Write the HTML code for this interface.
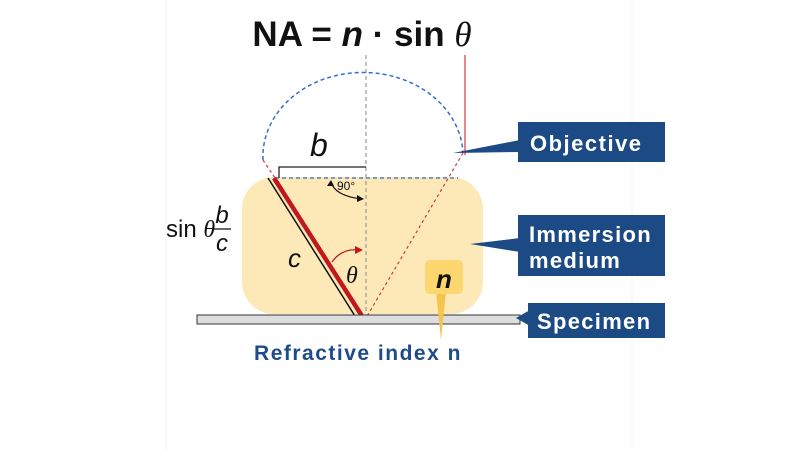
<!DOCTYPE html>
<html><head><meta charset="utf-8"><style>
html,body{margin:0;padding:0;background:#fff;}
body{width:800px;height:450px;overflow:hidden;position:relative;font-family:"Liberation Sans",sans-serif;}
</style></head><body>
<svg width="800" height="450" viewBox="0 0 800 450" xmlns="http://www.w3.org/2000/svg" style="position:absolute;left:0;top:0">
<line x1="166" y1="0" x2="166" y2="450" stroke="#f0f0f0" stroke-width="1"/>
<line x1="632" y1="0" x2="632" y2="450" stroke="#f0f0f0" stroke-width="1"/>
<text x="362" y="46" text-anchor="middle" font-family="Liberation Sans, sans-serif" font-size="35" font-weight="bold" fill="#111">NA = <tspan font-style="italic">n</tspan> · sin <tspan font-weight="normal" font-style="italic" font-family="Liberation Serif, serif">θ</tspan></text>
<rect x="242" y="177" width="241" height="137" rx="32" fill="#fde9b8"/>
<path d="M263,160 A100,84 0 0 1 463,153" fill="none" stroke="#2f6fce" stroke-width="1.5" stroke-dasharray="4,3"/>
<line x1="275" y1="178" x2="458" y2="178" stroke="#2f6fce" stroke-width="1.3" stroke-dasharray="4,3"/>
<line x1="366" y1="55" x2="366" y2="322" stroke="#999" stroke-width="1.2" stroke-dasharray="4,3"/>
<line x1="465" y1="55" x2="465" y2="155" stroke="#d9363e" stroke-width="1.2"/>
<line x1="263" y1="160" x2="275" y2="178" stroke="#d9363e" stroke-width="1.2" stroke-dasharray="3,3"/>
<line x1="463" y1="153" x2="366" y2="318" stroke="#d9363e" stroke-width="1.2" stroke-dasharray="3,3"/>
<polyline points="279,178 279,167 366,167" fill="none" stroke="#222" stroke-width="1.3"/>
<line x1="268" y1="178" x2="355" y2="316" stroke="#111" stroke-width="1.5"/>
<line x1="274" y1="178" x2="362" y2="316" stroke="#c0181e" stroke-width="4.5"/>
<rect x="197" y="315" width="323" height="9" fill="#ddd" stroke="#333" stroke-width="1"/>
<path d="M331,182 Q335,196 362,199" fill="none" stroke="#111" stroke-width="1.3"/>
<path d="M327,186 L331,180 L334,186 Z" fill="#111"/>
<path d="M357,195 L364,199 L357,202 Z" fill="#111"/>
<text x="337" y="190" font-size="12" fill="#111">90°</text>
<path d="M332,262 Q342,248 359,250" fill="none" stroke="#c0181e" stroke-width="1.3"/>
<path d="M355,246 L363,250 L355,254 Z" fill="#c0181e"/>
<text x="346" y="283" font-size="24" font-style="italic" font-family="Liberation Serif, serif" fill="#111">θ</text>
<text x="288" y="267" font-size="26" font-style="italic" fill="#111">c</text>
<text x="310" y="156" font-size="32" font-style="italic" fill="#111">b</text>
<text x="166" y="237" font-size="24" fill="#111">sin <tspan font-style="italic" font-family="Liberation Serif, serif">θ</tspan></text>
<text x="222" y="223" font-size="24" font-style="italic" fill="#111" text-anchor="middle">b</text>
<line x1="212" y1="229" x2="231" y2="229" stroke="#111" stroke-width="1.3"/>
<text x="222" y="251" font-size="24" font-style="italic" fill="#111" text-anchor="middle">c</text>
<polygon points="436,292 446,292 441,340" fill="#f4c54c"/>
<rect x="425" y="260" width="38" height="34" rx="5" fill="#fcd66e"/>
<text x="444" y="288" font-size="26" font-weight="bold" font-style="italic" fill="#111" text-anchor="middle">n</text>
<polygon points="453,153 520,140 520,152" fill="#1c4a85"/>
<rect x="518" y="122" width="147" height="40" fill="#1c4a85"/>
<text x="530" y="151" font-size="22" font-weight="bold" fill="#fff" letter-spacing="1.5">Objective</text>
<polygon points="470,244 520,238 520,252" fill="#1c4a85"/>
<rect x="518" y="215" width="147" height="61" fill="#1c4a85"/>
<text x="529" y="242" font-size="22" font-weight="bold" fill="#fff" letter-spacing="1.3">Immersion</text>
<text x="529" y="268" font-size="22" font-weight="bold" fill="#fff" letter-spacing="1.3">medium</text>
<polygon points="516,318 530,310 530,326" fill="#1c4a85"/>
<rect x="528" y="303" width="137" height="35" fill="#1c4a85"/>
<text x="537" y="329" font-size="22" font-weight="bold" fill="#fff" letter-spacing="1.3">Specimen</text>
<text x="358" y="360" font-size="21" font-weight="bold" fill="#1e4b8a" text-anchor="middle" letter-spacing="1.5">Refractive index n</text>
</svg>
</body></html>
